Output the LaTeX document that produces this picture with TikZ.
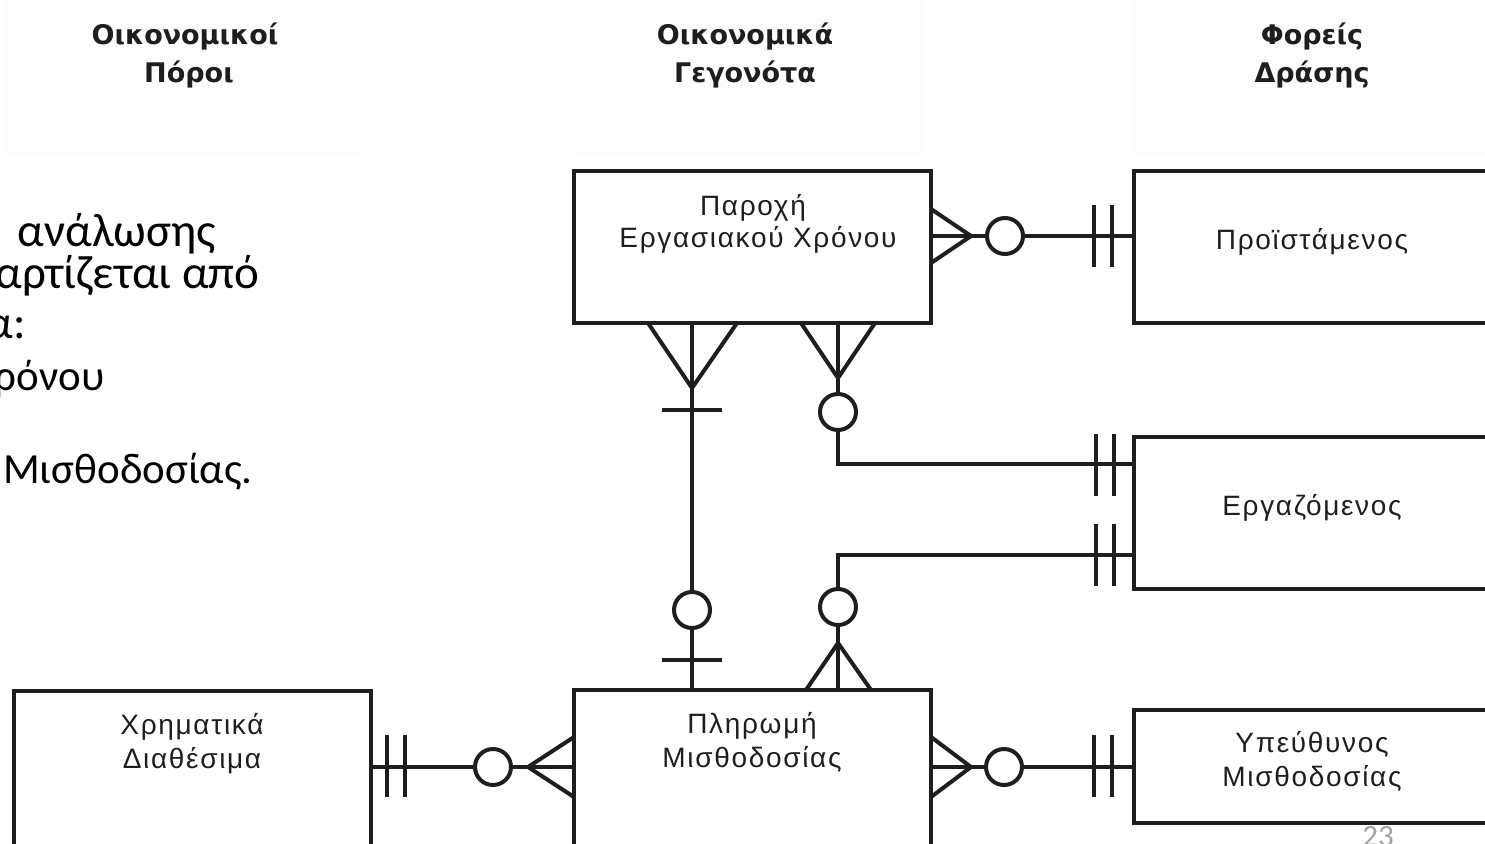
\documentclass[tikz,border=0pt]{standalone}
\usepackage{fontspec}
\setmainfont{Liberation Sans}
\newfontfamily\boxfont[LetterSpace=6]{Liberation Sans}
\newfontfamily\headfont{DejaVu Sans}
\newfontfamily\bodyfont{Carlito}
\definecolor{ink}{RGB}{30,30,30}
\definecolor{panel}{RGB}{253,253,253}
\definecolor{pagenum}{RGB}{160,160,160}
\begin{document}
\begin{tikzpicture}[x=1pt,y=-1pt,
  box/.style={draw=ink, line width=4pt, rectangle, inner sep=0pt, outer sep=0pt},
  link/.style={draw=ink, line width=4pt},
  ring/.style={circle, draw=ink, line width=4pt, fill=white, minimum size=36pt, inner sep=0pt},
  lbl/.style={font=\boxfont\fontsize{28}{32}\selectfont, text=ink, anchor=base, inner sep=0pt},
  head/.style={font=\headfont\bfseries\fontsize{27}{32}\selectfont, text=ink, anchor=base, inner sep=0pt},
  bodybig/.style={font=\bodyfont\fontsize{47}{54}\selectfont, text=black, anchor=base east, inner sep=0pt},
  bodysmall/.style={font=\bodyfont\fontsize{43}{50}\selectfont, text=black, anchor=base east, inner sep=0pt},
]
\useasboundingbox (0,0) rectangle (1485,843);
\clip (0,0) rectangle (1485,843);
% header panels
\fill[panel] (5,0) rectangle (360,157);
\fill[panel] (570,0) rectangle (925,157);
\fill[panel] (1133,0) rectangle (1485,157);
\node[head] (h1a) at (185,45) {Οικονομικοί};
\node[head] (h1b) at (189,82) {Πόροι};
\node[head] (h2a) at (745,45) {Οικονομικά};
\node[head] (h2b) at (745,82) {Γεγονότα};
\node[head] (h3a) at (1312,45) {Φορείς};
\node[head] (h3b) at (1312,82) {Δράσης};
% body text (cut at the left edge of the slide)
\node[bodybig] (b1) at (216,246) {α\hspace{7pt} ανάλωσης};
\node[bodybig] (b2) at (260,288) {αρτίζεται από};
\node[bodybig] (b3) at (26,338) {α:};
\node[bodysmall] (b4) at (105,390) {ρόνου};
\node[bodysmall] (b5) at (253,483) {Μισθοδοσίας.};
% entity boxes
\node[box, minimum width=357pt, minimum height=152pt] (pec) at (752.5,247) {};
\node[box, minimum width=466pt, minimum height=152pt] (boss) at (1367,247) {};
\node[box, minimum width=466pt, minimum height=152pt] (emp) at (1367,513) {};
\node[box, minimum width=466pt, minimum height=113pt] (ofc) at (1367,766.5) {};
\node[box, minimum width=357pt, minimum height=310pt] (pay) at (752.5,845) {};
\node[box, minimum width=357pt, minimum height=310pt] (cash) at (192.5,846) {};
% labels
\node[lbl] (pecT1) at (753,215) {Παροχή};
\node[lbl] (pecT2) at (758,247) {Εργασιακού Χρόνου};
\node[lbl] (bossT) at (1312,249) {Προϊστάμενος};
\node[lbl] (empT) at (1312,515) {Εργαζόμενος};
\node[lbl] (ofcT1) at (1312,752) {Υπεύθυνος};
\node[lbl] (ofcT2) at (1312,786) {Μισθοδοσίας};
\node[lbl] (payT1) at (752,733) {Πληρωμή};
\node[lbl] (payT2) at (752,767) {Μισθοδοσίας};
\node[lbl] (cashT1) at (192,734) {Χρηματικά};
\node[lbl] (cashT2) at (192,768) {Διαθέσιμα};
% 1: pec -- boss
\draw[link] (pec.east |- 0,236) -- (boss.west |- 0,236);
\draw[link] (pec.east |- 0,209) -- (971,236) -- (pec.east |- 0,263);
\draw[link] (1094,205) -- (1094,267) (1112,205) -- (1112,267);
\node[ring] (r1) at (1005,236) {};
% 2: pec -- pay
\draw[link] (pec.south -| 692,0) -- (pay.north -| 692,0);
\draw[link] (648,323) -- (692,388) -- (737,323);
\draw[link] (662,410) -- (722,410) (662,660) -- (722,660);
\node[ring] (r2) at (692,610) {};
% 3: pec -- emp
\draw[link] (pec.south -| 838,0) -- (838,464) -- (emp.west |- 0,464);
\draw[link] (801,323) -- (838,378) -- (875,323);
\draw[link] (1096,434) -- (1096,496) (1114,434) -- (1114,496);
\node[ring] (r3) at (838,412) {};
% 4: emp -- pay
\draw[link] (emp.west |- 0,555) -- (838,555) -- (pay.north -| 838,0);
\draw[link] (1096,524) -- (1096,586) (1114,524) -- (1114,586);
\draw[link] (806,690) -- (838,643) -- (871,690);
\node[ring] (r4) at (838,607) {};
% 5: pay -- ofc
\draw[link] (pay.east |- 0,767) -- (ofc.west |- 0,767);
\draw[link] (pay.east |- 0,737) -- (971,767) -- (pay.east |- 0,797);
\draw[link] (1094,735) -- (1094,797) (1112,735) -- (1112,797);
\node[ring] (r5) at (1004,767) {};
% 6: cash -- pay
\draw[link] (cash.east |- 0,767) -- (pay.west |- 0,767);
\draw[link] (387,735) -- (387,797) (405,735) -- (405,797);
\draw[link] (pay.west |- 0,737) -- (528,767) -- (pay.west |- 0,797);
\node[ring] (r6) at (493,767) {};
% page number
\node[font=\bodyfont\fontsize{31}{36}\selectfont, text=pagenum, anchor=base, inner sep=0pt] (pg) at (1378,846) {23};
\end{tikzpicture}
\end{document}
